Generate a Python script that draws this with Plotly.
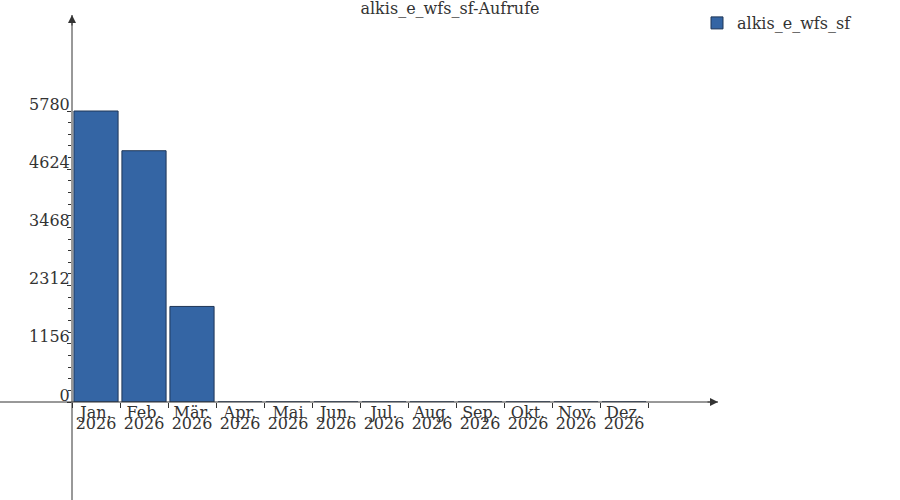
import plotly.graph_objects as go

# -----------------------------
# Daten
# -----------------------------
monate = ['Jan.', 'Feb.', 'Mär.', 'Apr.', 'Mai', 'Jun.',
          'Jul.', 'Aug.', 'Sep.', 'Okt.', 'Nov.', 'Dez.']
jahre = ['2026'] * 12
aufrufe = [5780, 4991, 1898, 0, 0, 0, 0, 0, 0, 0, 0, 0]
y_ticks = [0, 1156, 2312, 3468, 4624, 5780]
serie = 'alkis_e_wfs_sf'
titel = 'alkis_e_wfs_sf-Aufrufe'

FONT = 'DejaVu Serif'
TXT = '#333333'

fig = go.Figure()
fig.add_trace(go.Bar(
    x=monate, y=aufrufe, name=serie,
    marker=dict(color='#3465a4', line=dict(color='#1f3656', width=1)),
    showlegend=True,
))

# Platz für Achsenpfeile: 646 px Plotfläche, 48 px pro Monat
x_range = [-0.5, -0.5 + 646 / 48]
y_max = 387 * 5780 / 291
# kleine Striche zwischen den Hauptstrichen (5 Intervalle)
minor_vals = [y_ticks[i] + k * (y_ticks[i + 1] - y_ticks[i]) / 5
              for i in range(len(y_ticks) - 1) for k in range(1, 5)]

fig.update_layout(
    width=900, height=500,
    margin=dict(l=72, r=182, t=15, b=98, autoexpand=False),
    paper_bgcolor='white', plot_bgcolor='white',
    font=dict(family=FONT, color=TXT, size=16),
    title=dict(text=titel, x=0.5, xref='container', xanchor='center',
               y=1, yref='container', yanchor='top', pad=dict(t=3),
               font=dict(family=FONT, color=TXT, size=16)),
    bargap=0.08,
    showlegend=True,
    legend=dict(x=(697 - 72) / 646, xanchor='left',
                y=1 - 6 / 500, yref='container', yanchor='top',
                font=dict(family=FONT, color=TXT, size=16), itemwidth=30,
                bgcolor='rgba(0,0,0,0)'),
    xaxis=dict(type='category', range=x_range, tickson='boundaries',
               ticks='outside', ticklen=5, tickcolor=TXT, automargin=False,
               showline=False, showgrid=False, zeroline=False,
               tickfont=dict(family=FONT, color=TXT, size=16),
               ticklabelstandoff=-1),
    xaxis2=dict(overlaying='x', anchor='y', side='bottom', type='linear',
                range=x_range, tickmode='array', automargin=False,
                tickvals=list(range(12)), ticktext=jahre,
                ticks='', showline=False, showgrid=False, zeroline=False,
                tickfont=dict(family=FONT, color=TXT, size=16),
                ticklabelstandoff=10),
    yaxis=dict(range=[0, y_max], tickmode='array', tickvals=y_ticks,
               ticks='outside', ticklen=4, tickcolor=TXT, automargin=False,
               minor=dict(tickmode='array', tickvals=minor_vals,
                          ticks='outside', ticklen=3,
                          tickcolor=TXT, showgrid=False),
               showline=False, showgrid=False, zeroline=False,
               tickfont=dict(family=FONT, color=TXT, size=16),
               ticklabelshift=-7, ticklabelstandoff=-6),
)

# leere Spur für die Jahreszeile
fig.add_trace(go.Scatter(x=[None], y=[None], xaxis='x2', showlegend=False,
                         hoverinfo='skip'))

# Achsenlinien mit Pfeilen
fig.add_shape(type='line', xref='paper', yref='paper',
              x0=-72 / 646, x1=1, y0=0, y1=0,
              line=dict(color=TXT, width=1))
fig.add_shape(type='line', xref='paper', yref='paper',
              x0=0, x1=0, y0=-98 / 387, y1=1,
              line=dict(color=TXT, width=1))
fig.add_annotation(x=0, y=1, xref='paper', yref='paper', ax=0, ay=12,
                   text='', showarrow=True, arrowhead=2, arrowsize=1.6,
                   arrowwidth=1, arrowcolor=TXT)
fig.add_annotation(x=1, y=0, xref='paper', yref='paper', ax=-12, ay=0,
                   text='', showarrow=True, arrowhead=2, arrowsize=1.6,
                   arrowwidth=1, arrowcolor=TXT)

# Seitenrand des Browsers entfernen, damit die Grafik bei 0,0 beginnt
fig.write_html('out.html', config={'displayModeBar': False},
               post_script="document.body.style.margin='0';")
